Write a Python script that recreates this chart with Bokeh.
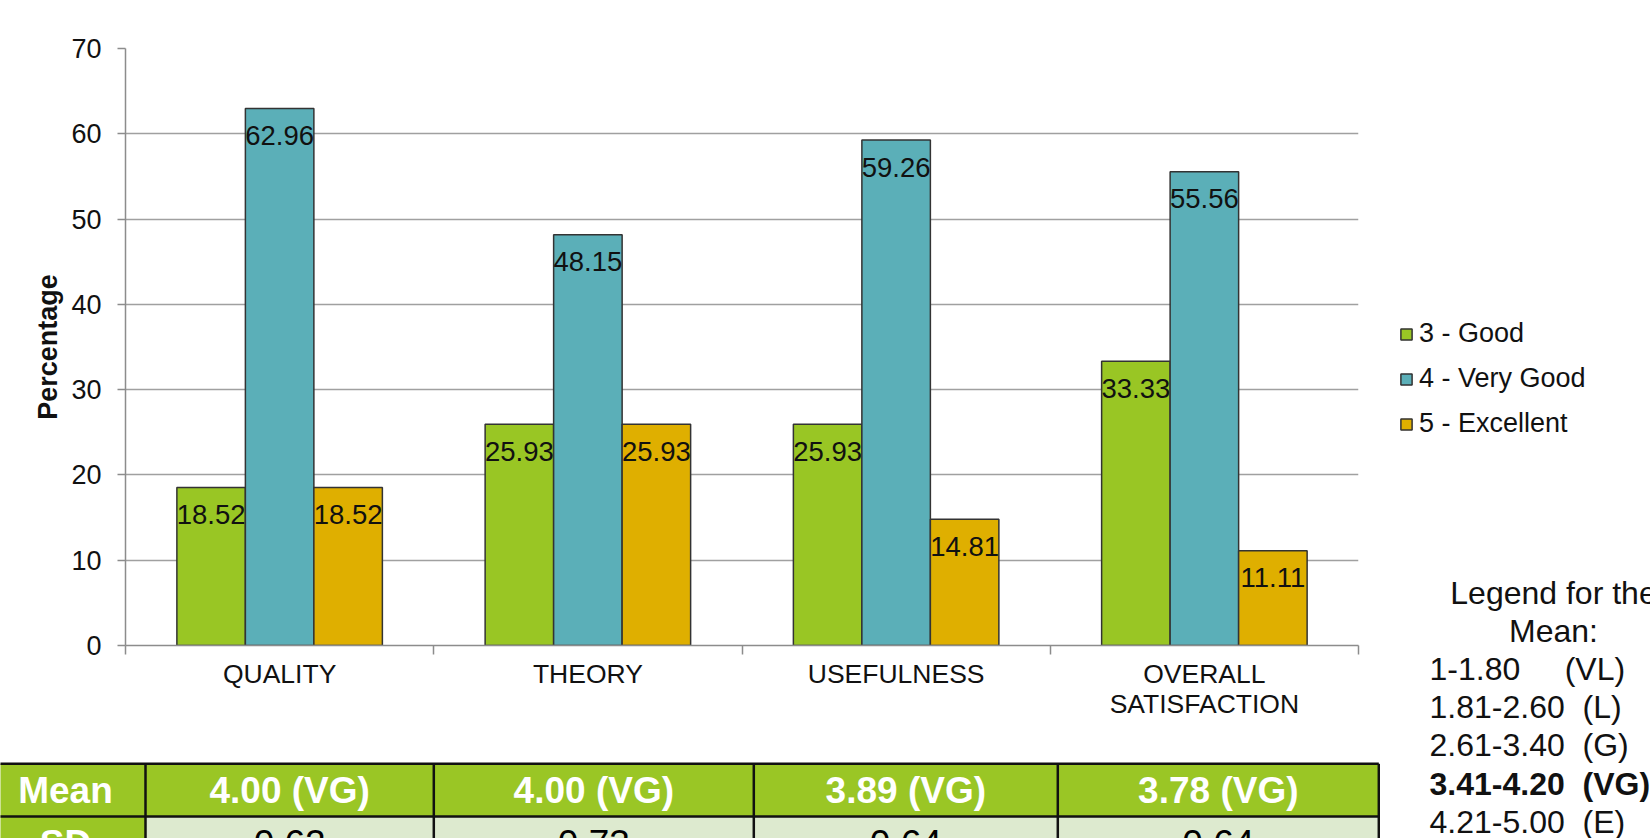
from bokeh.plotting import figure
from bokeh.models import (Range1d, FixedTicker, LinearAxis, Legend, LegendItem,
                          ColumnDataSource, Grid)
from bokeh.layouts import row, column
from bokeh.embed import file_html
from bokeh.resources import INLINE
from bokeh.core.properties import value

# ---------------- data ----------------
categories = ["QUALITY", "THEORY", "USEFULNESS", "OVERALL\nSATISFACTION"]
series_names = ["3 - Good", "4 - Very Good", "5 - Excellent"]
good = [18.52, 25.93, 25.93, 33.33]
very_good = [62.96, 48.15, 59.26, 55.56]
excellent = [18.52, 25.93, 14.81, 11.11]
y_ticks = [0, 10, 20, 30, 40, 50, 60, 70]
y_title = "Percentage"

table_row_labels = ["Mean", "SD"]
mean_values = ["4.00 (VG)", "4.00 (VG)", "3.89 (VG)", "3.78 (VG)"]
sd_values = ["0.62", "0.73", "0.64", "0.64"]

mean_legend_title = ["Legend for the", "Mean:"]
mean_legend_ranges = ["1-1.80", "1.81-2.60", "2.61-3.40", "3.41-4.20", "4.21-5.00"]
mean_legend_codes = ["(VL)", "(L)", "(G)", "(VG)", "(E)"]
mean_legend_gaps = [5, 2, 2, 2, 2]
highlight_index = 3

# ---------------- styles ----------------
FONT = "Liberation Sans"
COLORS = ["#99C624", "#5BAFB8", "#DFAF00"]
GREEN = "#9AC625"
LIGHT = "#DDEACF"
GRID = "#A0A0A0"
AXIS = "#8C8C8C"
TXT = "#111111"


def no_align(p):
    if "frame_align" in p.properties():
        p.frame_align = False


# ---------------- main chart ----------------
pA = figure(width=1380, height=740, x_range=Range1d(-0.5, 3.5), y_range=Range1d(0, 70),
            x_axis_type=None, y_axis_type=None, title=None,
            output_backend="svg", toolbar_location=None,
            min_border_left=125, min_border_right=22, min_border_top=48, min_border_bottom=95)
pA.outline_line_color = None
pA.background_fill_color = "white"
no_align(pA)

yaxis = LinearAxis(ticker=FixedTicker(ticks=y_ticks), axis_label=y_title,
                   axis_label_text_font=FONT, axis_label_text_font_style="bold",
                   axis_label_text_font_size="27px", axis_label_text_color=TXT,
                   axis_label_standoff=5,
                   major_label_text_font=FONT, major_label_text_font_size="27px",
                   major_label_text_color=TXT, major_label_standoff=16,
                   major_tick_out=8, major_tick_in=0, minor_tick_out=0, minor_tick_in=0,
                   major_tick_line_color=AXIS, axis_line_color=AXIS,
                   axis_line_width=1.5, major_tick_line_width=1.5)
pA.add_layout(yaxis, "left")

n = len(categories)
xaxis = LinearAxis(ticker=FixedTicker(ticks=list(range(n)),
                                      minor_ticks=[i - 0.5 for i in range(n + 1)]),
                   major_label_overrides={i: c for i, c in enumerate(categories)},
                   major_label_text_font=FONT, major_label_text_font_size="26.5px",
                   major_label_text_color=TXT, major_label_standoff=4,
                   major_label_text_line_height=1.0,
                   major_tick_out=0, major_tick_in=0, minor_tick_out=9, minor_tick_in=0,
                   minor_tick_line_color=AXIS, minor_tick_line_width=1.5,
                   axis_line_color=AXIS, axis_line_width=1.5)
pA.add_layout(xaxis, "below")

pA.add_layout(Grid(dimension=1, ticker=yaxis.ticker, grid_line_color=GRID,
                   grid_line_width=1.5))

bw = 1 / 4.5
offsets = [-bw, 0, bw]
for vals, off, col in zip([good, very_good, excellent], offsets, COLORS):
    src = ColumnDataSource(dict(x=[i + off for i in range(n)], top=vals,
                                lab=["%.2f" % v for v in vals]))
    pA.vbar(x="x", top="top", bottom=0, width=bw, source=src, fill_color=col,
            line_color="#333333", line_width=1.5)
    pA.text(x="x", y="top", text="lab", source=src, text_align="center",
            text_baseline="middle", y_offset=27, text_font=value(FONT),
            text_font_size="27.5px", text_color=TXT)

# ---------------- table ----------------
pB = figure(width=1380, height=98, x_range=Range1d(0, 1380), y_range=Range1d(838, 740),
            x_axis_type=None, y_axis_type=None, title=None,
            output_backend="svg", toolbar_location=None, min_border=0)
pB.outline_line_color = None
no_align(pB)

col_edges = [-15, 145, 433.3, 753.3, 1057.3, 1378.3]
row_edges = [763.3, 816, 869]
rows_text = [[table_row_labels[0]] + mean_values, [table_row_labels[1]] + sd_values]

L, R, T, B, F = [], [], [], [], []
for r in range(2):
    for c in range(len(col_edges) - 1):
        L.append(col_edges[c]); R.append(col_edges[c + 1])
        T.append(row_edges[r]); B.append(row_edges[r + 1])
        F.append(GREEN if (r == 0 or c == 0) else LIGHT)
pB.quad(left=L, right=R, top=T, bottom=B, fill_color=F, line_color=None)

xs, ys = [], []
for yv in row_edges:
    xs.append([col_edges[0], col_edges[-1]]); ys.append([yv, yv])
for xv in col_edges[1:]:
    xs.append([xv, xv]); ys.append([row_edges[0], row_edges[-1]])
pB.multi_line(xs=xs, ys=ys, line_color="#111111", line_width=2.5)

wx, wy, wt, kx, ky, kt = [], [], [], [], [], []
for r in range(2):
    for c in range(len(col_edges) - 1):
        cx = (col_edges[c] + col_edges[c + 1]) / 2
        cy = (row_edges[r] + row_edges[r + 1]) / 2
        if r == 0 or c == 0:
            wx.append(cx); wy.append(cy); wt.append(rows_text[r][c])
        else:
            kx.append(cx); ky.append(cy); kt.append(rows_text[r][c])
pB.text(x=wx, y=wy, text=wt, text_align="center", text_baseline="middle",
        text_font=value(FONT), text_font_style="bold", text_font_size="37px",
        text_color="white")
pB.text(x=kx, y=ky, text=kt, text_align="center", text_baseline="middle",
        text_font=value(FONT), text_font_size="37px", text_color="black")

# ---------------- right column: legends ----------------
pC = figure(width=270, height=838, x_range=Range1d(1380, 1650), y_range=Range1d(838, 0),
            x_axis_type=None, y_axis_type=None, title=None,
            output_backend="svg", toolbar_location=None, min_border=0)
pC.outline_line_color = None
no_align(pC)

items = []
nan = float("nan")
for name, col in zip(series_names, COLORS):
    rr = pC.vbar(x=[nan], top=[nan], width=1, fill_color=col, line_color="#333333",
                 line_width=1.5)
    items.append(LegendItem(label=name, renderers=[rr]))
legend = Legend(items=items, location=(19, 399), orientation="vertical",
                glyph_width=14, glyph_height=14, label_standoff=6, label_height=31,
                spacing=14, padding=0, margin=0, border_line_color=None,
                background_fill_alpha=0, label_text_font=FONT,
                label_text_font_size="27px", label_text_color=TXT)
pC.add_layout(legend)

title_y0, line_h = 592, 38.2
pC.text(x=[1553] * len(mean_legend_title),
        y=[title_y0 + line_h * i for i in range(len(mean_legend_title))],
        text=mean_legend_title, text_align="center", text_baseline="middle",
        text_font=value(FONT), text_font_size="32px", text_color=TXT)

lines = [rg + "\u00a0" * g + cd for rg, g, cd in
         zip(mean_legend_ranges, mean_legend_gaps, mean_legend_codes)]
y0 = title_y0 + line_h * len(mean_legend_title)
nx, ny, nt, bx, by, bt = [], [], [], [], [], []
for i, t in enumerate(lines):
    if i == highlight_index:
        bx.append(1429); by.append(y0 + line_h * i); bt.append(t)
    else:
        nx.append(1429); ny.append(y0 + line_h * i); nt.append(t)
pC.text(x=nx, y=ny, text=nt, text_align="left", text_baseline="middle",
        text_font=value(FONT), text_font_size="32px", text_color=TXT)
pC.text(x=bx, y=by, text=bt, text_align="left", text_baseline="middle",
        text_font=value(FONT), text_font_style="bold", text_font_size="32px",
        text_color=TXT)

layout = row(column(pA, pB), pC)
open("out.html", "w").write(file_html(layout, INLINE))
